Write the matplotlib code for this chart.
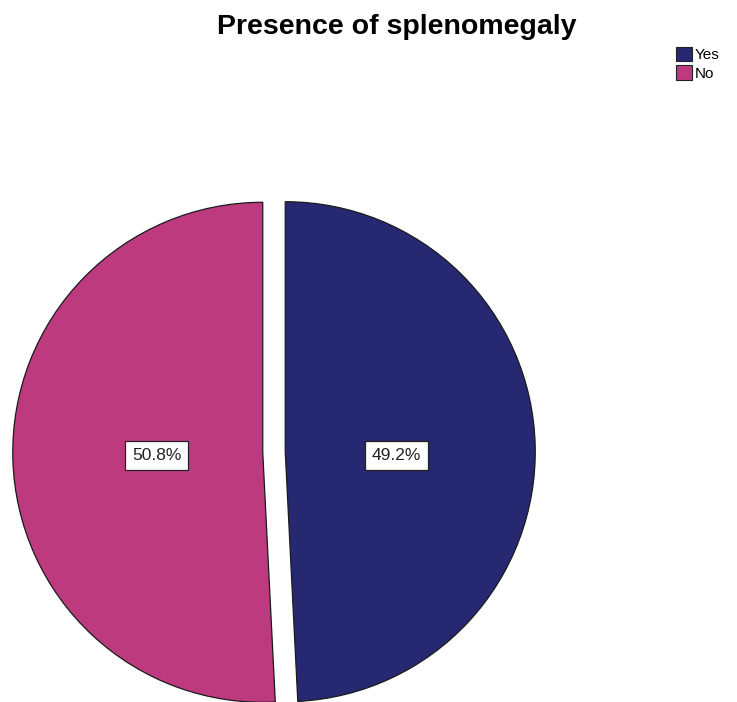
import matplotlib.pyplot as plt
from matplotlib.patches import Patch

plt.rcParams['font.family'] = ['Liberation Sans', 'DejaVu Sans']

labels = ['Yes', 'No']
shares = [49.2, 50.8]
colors = ['#262872', '#be3a7f']

fig = plt.figure(figsize=(7.37, 7.02), dpi=100)
ax = fig.add_axes([0, 0, 1, 1])

# pie centre at (274, 452) px, radius 250 px
r_px = 250.0
cx, cy = 274.0, 452.0

wedges, texts, autotexts = ax.pie(
    shares, colors=colors, startangle=90, counterclock=False,
    explode=[0.045, 0.045], autopct='%1.1f%%', pctdistance=0.47,
    wedgeprops=dict(edgecolor='#1a1a1a', linewidth=0.9),
    textprops=dict(fontsize=12.5, color='#222222'),
    radius=1.0, frame=True)
ax.set_xlim(-cx / r_px, (737 - cx) / r_px)
ax.set_ylim(-(702 - cy) / r_px, cy / r_px)
ax.set_aspect('auto')
ax.axis('off')

# labels sit level with each other, just below the centre
label_pos = [(0.49, -0.015), (-0.47, -0.015)]
for t, pos in zip(autotexts, label_pos):
    t.set_position(pos)
    t.set_bbox(dict(facecolor='white', edgecolor='#222222', linewidth=0.9, pad=5))

fig.text(397 / 737, 1 - 27 / 702, 'Presence of splenomegaly', ha='center', va='center',
         fontsize=20.5, fontweight='bold')

handles = [Patch(facecolor=c, edgecolor='#222222', linewidth=0.8) for c in colors]
fig.legend(handles, labels, loc='upper left', bbox_to_anchor=(673 / 737, 1 - 44 / 702),
           frameon=False, fontsize=11, handlelength=1.05, handleheight=1.05,
           handletextpad=0.15, labelspacing=0.2, borderpad=0.2, borderaxespad=0)

fig.savefig('out.png', dpi=100)
